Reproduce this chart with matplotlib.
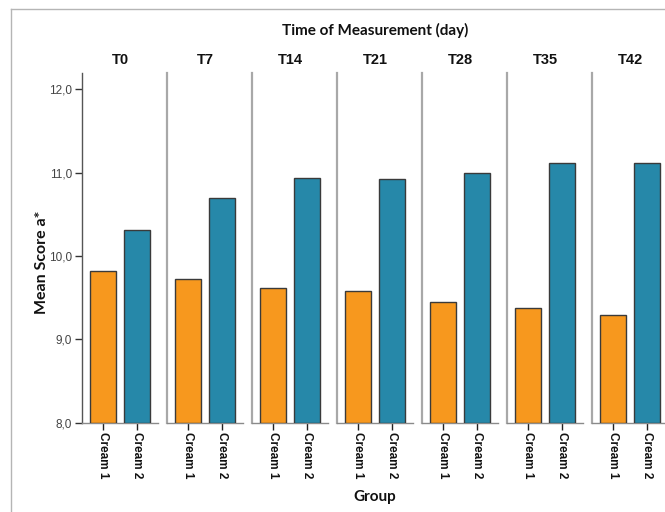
import matplotlib
matplotlib.use("Agg")
import matplotlib.pyplot as plt
from matplotlib.lines import Line2D

# Mean a* score per group at each measurement day
timepoints = ["T0", "T7", "T14", "T21", "T28", "T35", "T42"]
groups = ["Cream 1", "Cream 2"]
cream1 = [9.82, 9.73, 9.62, 9.58, 9.45, 9.38, 9.29]
cream2 = [10.31, 10.70, 10.94, 10.93, 11.00, 11.12, 11.12]
y_ticks = [8.0, 9.0, 10.0, 11.0, 12.0]

orange = "#F7981E"
blue = "#2688A9"
edge = "#3a3a3a"

W, H = 665, 512
fig = plt.figure(figsize=(W / 100, H / 100), dpi=100)

# panel geometry in pixels
left0 = 82
panel_w = 76
gap = 9
y_bottom = 422.7
y_top = 73

label_font = ["Lato", "DejaVu Sans"]
tick_font = ["Liberation Sans", "DejaVu Sans"]

axes = []
for i, tp in enumerate(timepoints):
    x0 = left0 + i * (panel_w + gap)
    ax = fig.add_axes([x0 / W, 1 - y_bottom / H, panel_w / W, (y_bottom - y_top) / H])
    axes.append(ax)
    vals = [cream1[i], cream2[i]]
    ax.bar([0, 1], [v - 8.0 for v in vals], bottom=8.0, width=0.76,
           color=[orange, blue], edgecolor=edge, linewidth=1.0, zorder=3)
    ax.set_xlim(-0.62, 1.62)
    ax.set_ylim(8.0, 12.196)
    ax.set_xticks([0, 1])
    ax.set_xticklabels(groups, rotation=-90, fontsize=8.5, fontweight="bold",
                       family=tick_font, color="#111111")
    ax.tick_params(axis="x", length=5, width=1.0, color="#222222", pad=2)
    for s in ("top", "right"):
        ax.spines[s].set_visible(False)
    ax.spines["bottom"].set_color("#8a8a8a")
    ax.spines["bottom"].set_linewidth(1.0)
    if i == 0:
        ax.spines["left"].set_color("#555555")
        ax.spines["left"].set_linewidth(1.0)
        ax.set_yticks(y_ticks)
        ax.set_yticklabels([f"{t:.1f}".replace(".", ",") for t in y_ticks],
                           fontsize=8.5, family=tick_font, color="#444444")
        ax.tick_params(axis="y", length=5, width=1.0, color="#333333", pad=2)
    else:
        ax.spines["left"].set_color("#a8a8a8")
        ax.spines["left"].set_linewidth(1.6)
        ax.set_yticks([])
    ax.patch.set_alpha(0)
    fig.text((x0 + panel_w / 2) / W, 1 - 60 / H, tp, ha="center", va="center",
             fontsize=10.5, fontweight="bold", family=tick_font, color="#111111")

span_left = left0
span_right = left0 + 7 * panel_w + 6 * gap
center_x = (span_left + span_right) / 2 / W

fig.text(center_x, 1 - 30 / H, "Time of Measurement (day)", ha="center", va="center",
         fontsize=11, fontweight="bold", family=label_font, color="#111111")
fig.text(center_x, 1 - 497 / H, "Group", ha="center", va="center",
         fontsize=11, fontweight="bold", family=label_font, color="#111111")
fig.text(42 / W, 1 - 262 / H, "Mean Score a*", ha="center", va="center", rotation=90,
         fontsize=11.5, fontweight="bold", family=label_font, color="#111111")

# thin frame around the chart area
fig.add_artist(Line2D([11 / W, 11 / W], [0, 1 - 9 / H], transform=fig.transFigure,
                      color="#b5b5b5", linewidth=1.0))
fig.add_artist(Line2D([11 / W, 1], [1 - 9 / H, 1 - 9 / H], transform=fig.transFigure,
                      color="#b5b5b5", linewidth=1.0))

fig.savefig("out.png", dpi=100)
